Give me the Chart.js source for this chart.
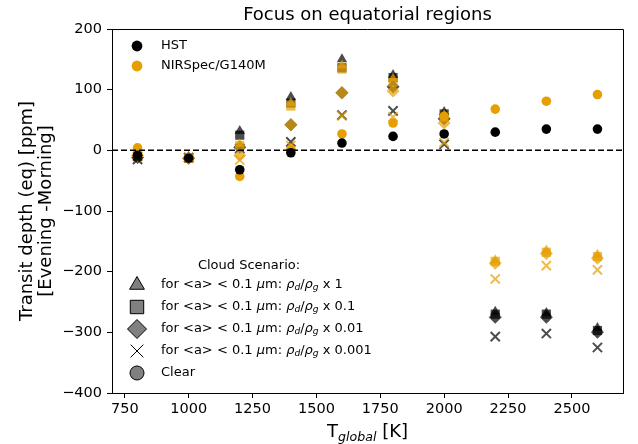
<!DOCTYPE html>
<html>
<head>
<meta charset="utf-8">
<script src="https://cdn.jsdelivr.net/npm/chart.js@4.4.1/dist/chart.umd.min.js"></script>
<style>
  html, body { margin: 0; padding: 0; background: #fff; }
  canvas { display: block; }
</style>
</head>
<body>
<canvas id="chart" width="638" height="444"></canvas>
<script>
// Global equilibrium temperatures of the model grid [K]
const temps = [800, 1000, 1200, 1400, 1600, 1800, 2000, 2200, 2400, 2600];

// Evening - morning transit depth difference [ppm], HST band
const hstClear = [-8, -13, -32, -4, 12, 23, 27, 30, 35, 35];
const hstDust1 = [-10, -11, 32, 88, 150, 124, 63, -266, -268, -293];
const hstDust01 = [-10, -13, 25, 78, 136, 120, 60, -270, -270, -297];
const hstDust001 = [-12, -13, 5, 42, 95, 105, 52, -275, -275, -300];
const hstDust0001 = [-15, -12, 3, 14, 58, 65, 10, -307, -302, -325];

// Same for NIRSpec/G140M
const nirClear = [4, -13, -43, 2, 27, 45, 56, 68, 81, 92];
const nirDust1 = [-5, -11, 10, 78, 140, 118, 58, -181, -165, -172];
const nirDust01 = [-6, -13, 8, 73, 134, 112, 55, -183, -168, -175];
const nirDust001 = [-8, -13, -8, 42, 95, 98, 45, -186, -170, -178];
const nirDust0001 = [-10, -12, -16, 8, 57, 55, 13, -212, -190, -197];

const dustFactors = ["1", "0.1", "0.01", "0.001"];
const xTicks = [750, 1000, 1250, 1500, 1750, 2000, 2250, 2500];
const yTicks = [-400, -300, -200, -100, 0, 100, 200];

const FONT = "'DejaVu Sans', sans-serif";
const ORANGE = "#E69F00";
const HST_FADE = "rgba(0,0,0,0.7)";
const NIR_FADE = "rgba(230,159,0,0.7)";

const markers = [
  { style: "triangle", r: 6 },
  { style: "rect", r: 6.5 },
  { style: "rectRot", r: 6.5 },
  { style: "crossRot", r: 6.5 },
];

const pts = (vals) => temps.map((t, i) => ({ x: t, y: vals[i] }));

function cloudSet(vals, m, color) {
  const isCross = m.style === "crossRot";
  return {
    type: "scatter",
    data: pts(vals),
    pointStyle: m.style,
    pointRadius: m.r,
    pointHoverRadius: m.r,
    backgroundColor: color,
    borderColor: color,
    borderWidth: isCross ? 2 : 0,
  };
}

function clearSet(vals, color) {
  return {
    type: "scatter",
    data: pts(vals),
    pointStyle: "circle",
    pointRadius: 4.8,
    pointHoverRadius: 4.8,
    backgroundColor: color,
    borderWidth: 0,
  };
}

const hstCloud = [hstDust1, hstDust01, hstDust001, hstDust0001];
const nirCloud = [nirDust1, nirDust01, nirDust001, nirDust0001];

const datasets = [
  {
    type: "line",
    data: [{ x: 700, y: 0 }, { x: 2700, y: 0 }],
    borderColor: "#000",
    borderWidth: 1.5,
    borderDash: [6, 3],
    pointRadius: 0,
  },
  clearSet(hstClear, "#000"),
  clearSet(nirClear, ORANGE),
];
for (let i = 0; i < markers.length; i++) {
  datasets.push(cloudSet(nirCloud[i], markers[i], NIR_FADE));
  datasets.push(cloudSet(hstCloud[i], markers[i], HST_FADE));
}

// text runs with italic / subscript pieces (mathtext-like)
function richWidth(ctx, parts, size) {
  let w = 0;
  for (const p of parts) {
    const s = p.sub ? size * 0.7 : size;
    ctx.font = (p.it ? "italic " : "") + s + "px " + FONT;
    w += ctx.measureText(p.t).width;
  }
  return w;
}

function drawRich(ctx, x, y, parts, size, align) {
  let cx = align === "center" ? x - richWidth(ctx, parts, size) / 2 : x;
  ctx.textAlign = "left";
  for (const p of parts) {
    const s = p.sub ? size * 0.7 : size;
    ctx.font = (p.it ? "italic " : "") + s + "px " + FONT;
    ctx.fillText(p.t, cx, p.sub ? y + size * 0.22 : y);
    cx += ctx.measureText(p.t).width;
  }
}

const decorations = {
  id: "decorations",
  afterDraw(chart) {
    const ctx = chart.ctx;
    const a = chart.chartArea;
    ctx.save();

    // top and right spines
    ctx.strokeStyle = "#000";
    ctx.lineWidth = 1;
    ctx.beginPath();
    ctx.moveTo(a.left, a.top + 0.5);
    ctx.lineTo(a.right + 0.5, a.top + 0.5);
    ctx.lineTo(a.right + 0.5, a.bottom);
    ctx.stroke();

    ctx.fillStyle = "#000";
    ctx.textBaseline = "alphabetic";

    // title
    ctx.font = "18px " + FONT;
    ctx.textAlign = "center";
    ctx.fillText("Focus on equatorial regions", (a.left + a.right) / 2, 20);

    // x axis title
    drawRich(ctx, (a.left + a.right) / 2, 437, [
      { t: "T" }, { t: "global", it: true, sub: true }, { t: " [K]" },
    ], 18, "center");

    // y axis title, two lines
    ctx.save();
    ctx.translate(0, (a.top + a.bottom) / 2);
    ctx.rotate(-Math.PI / 2);
    ctx.font = "18px " + FONT;
    ctx.textAlign = "center";
    ctx.textBaseline = "middle";
    ctx.fillText("Transit depth (eq) [ppm]", 0, 27);
    ctx.fillText("[Evening -Morning]", 0, 46);
    ctx.restore();

    // instrument legend
    ctx.textBaseline = "middle";
    const inst = [["HST", "#000", 46], ["NIRSpec/G140M", ORANGE, 66]];
    for (const [label, color, y] of inst) {
      ctx.fillStyle = color;
      Chart.helpers.drawPoint(ctx, { pointStyle: "circle", radius: 5.4, borderWidth: 0, rotation: 0 }, 137, y);
      ctx.fillStyle = "#000";
      ctx.font = "13px " + FONT;
      ctx.textAlign = "left";
      ctx.fillText(label, 161, y);
    }

    // cloud scenario legend
    ctx.font = "13px " + FONT;
    ctx.textAlign = "center";
    ctx.fillText("Cloud Scenario:", 249, 266);
    const rows = [285, 307, 329, 351, 373];
    const keyMarkers = [
      { style: "triangle", r: 8.5 },
      { style: "rect", r: 9.5 },
      { style: "rectRot", r: 9.5 },
      { style: "crossRot", r: 9 },
    ];
    for (let i = 0; i < 4; i++) {
      ctx.fillStyle = "#808080";
      ctx.strokeStyle = "#000";
      ctx.lineWidth = 1;
      Chart.helpers.drawPoint(ctx, { pointStyle: keyMarkers[i].style, radius: keyMarkers[i].r, borderWidth: 1, rotation: 0 }, 137, rows[i]);
      ctx.fillStyle = "#000";
      drawRich(ctx, 161, rows[i], [
        { t: "for <a> < 0.1 " }, { t: "\u03bc", it: true }, { t: "m: " },
        { t: "\u03c1", it: true }, { t: "d", it: true, sub: true }, { t: "/" },
        { t: "\u03c1", it: true }, { t: "g", it: true, sub: true },
        { t: " x " + dustFactors[i] },
      ], 13, "left");
    }
    ctx.fillStyle = "#808080";
    Chart.helpers.drawPoint(ctx, { pointStyle: "circle", radius: 7, borderWidth: 1, rotation: 0 }, 137, rows[4]);
    ctx.fillStyle = "#000";
    ctx.font = "13px " + FONT;
    ctx.textAlign = "left";
    ctx.fillText("Clear", 161, rows[4]);

    ctx.restore();
  },
};

const minus = (v) => (v < 0 ? "\u2212" + Math.abs(v) : String(v));

const axisCommon = {
  type: "linear",
  grid: { display: true, drawOnChartArea: false, drawTicks: true, tickLength: 5, tickColor: "#000", tickWidth: 1 },
  border: { display: true, color: "#000", width: 1 },
};

new Chart(document.getElementById("chart"), {
  data: { datasets },
  plugins: [decorations],
  options: {
    responsive: false,
    devicePixelRatio: 1,
    animation: false,
    events: [],
    layout: { padding: { top: 29, right: 15, left: 0, bottom: 0 } },
    plugins: { legend: { display: false }, tooltip: { enabled: false }, title: { display: false } },
    scales: {
      x: {
        ...axisCommon,
        min: 700,
        max: 2700,
        afterBuildTicks: (s) => { s.ticks = xTicks.map((v) => ({ value: v })); },
        afterFit: (s) => { s.height = 51; },
        ticks: { color: "#000", font: { family: FONT, size: 14.5 }, padding: 3, maxRotation: 0, autoSkip: false, callback: (v) => String(v) },
      },
      y: {
        ...axisCommon,
        min: -400,
        max: 200,
        afterBuildTicks: (s) => { s.ticks = yTicks.map((v) => ({ value: v })); },
        afterFit: (s) => { s.width = 112; },
        ticks: { color: "#000", font: { family: FONT, size: 14.5 }, padding: 5, callback: minus },
      },
    },
  },
});
</script>
</body>
</html>
